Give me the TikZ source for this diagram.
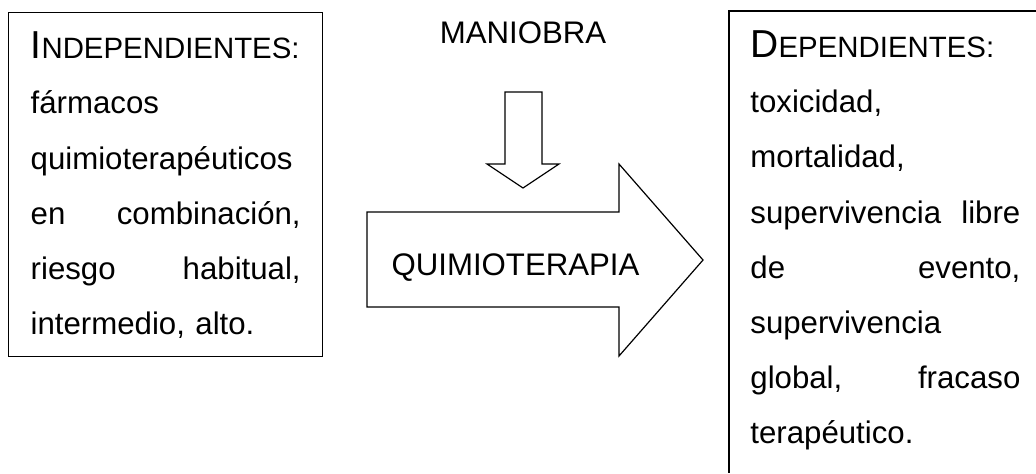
\documentclass[tikz,border=0pt]{standalone}
\usepackage{fontspec}
\setmainfont{Liberation Sans}
\usepackage{tikz}
\newcommand{\versalita}[2]{{\fontsize{19.5pt}{27.6pt}\selectfont #1}{\fontsize{14.7pt}{27.6pt}\selectfont #2}}

\begin{document}
\begin{tikzpicture}[x=0.5pt,y=-0.5pt,
        caja/.style={anchor=north west,align=left,text width=135pt,
            inner xsep=11pt,inner ysep=0pt,text height=23pt,
            font=\fontsize{15.6pt}{27.6pt}\selectfont},
        borde/.style={line width=0.7pt},
        flecha/.style={draw,line width=0.6pt,fill=white},
        rotulo/.style={anchor=base,inner sep=0pt,font=\fontsize{15.6pt}{18pt}\selectfont}]
            \useasboundingbox (0,0) rectangle (1036,473);

            % cajas de variables
            \node[caja,draw,borde,text depth=149pt] (indep) at (8,12) {\versalita{I}{NDEPENDIENTES:}\\
                fármacos\\
                quimioterapéuticos\\
                en\hfill combinación,\\
                riesgo\hfill habitual,\\
                intermedio, alto.};
            \node[caja,inner xsep=0pt] (dep) at (750,11) {\versalita{D}{EPENDIENTES:}\\
                toxicidad,\\
                mortalidad,\\
                supervivencia\hfill libre\\
                de\hfill evento,\\
                supervivencia\\
                global,\hfill fracaso\\
                terapéutico.};
            % la caja derecha queda cortada por el borde
            \coordinate (esq) at (729,11);
            \draw[borde] (1036,11) -- (esq) -- (729,473);

            % flechas
            \draw[flecha] (505,92)--(542,92)--(542,164)--(559,164)--(523,188)--(487,164)--(505,164)--cycle;
            \draw[flecha] (367,212)--(619,212)--(619,164)--(703,260)--(619,356)--(619,307)--(367,307)--cycle;

            \node[rotulo] (maniobra) at (523,43) {MANIOBRA};
            \node[rotulo] (quimio) at (515.5,275) {QUIMIOTERAPIA};
        \end{tikzpicture}
\end{document}
